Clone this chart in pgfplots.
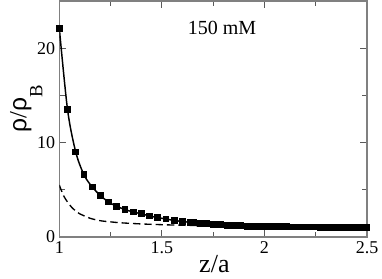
\documentclass[border=0pt]{standalone}
\usepackage{fontspec}
\setmainfont{Liberation Serif}
\newfontfamily\greekfont{Liberation Sans}
\usepackage{pgfplots}
\pgfplotsset{compat=1.18}
\begin{document}
\begin{tikzpicture}
\begin{axis}[
  scale only axis, width=230.8pt, height=177pt,
  xmin=1, xmax=2.5, ymin=0, ymax=25,
  xtick={1,1.5,2,2.5}, xticklabels={1,1.5,2,2.5},
  ytick={0,10,20},
  minor xtick={1.25,1.75,2.25}, minor ytick={5,15},
  tick align=inside, major tick length=5pt, minor tick length=4pt,
  axis line style={gray, line width=0.9pt},
  every tick/.style={gray!70!black, line width=0.8pt},
  /pgf/number format/assume math mode=true,
  tick label style={font=\fontsize{13.5}{14}\selectfont},
  xticklabel style={inner sep=0pt, yshift=-3pt},
  yticklabel style={inner sep=0pt, xshift=-3pt},
  xlabel={z/a},
  xlabel style={at={(axis description cs:0.504,0)}, anchor=north, inner sep=0pt, yshift=-13.5pt, font=\fontsize{19.5}{20}\selectfont},
  ylabel={{\greekfont ρ}/{\greekfont ρ}\raisebox{-12pt}{\fontsize{14}{14}\selectfont B}},
  ylabel style={at={(axis description cs:0,0.545)}, anchor=south, inner sep=0pt, yshift=12.5pt, font=\fontsize{18.5}{19}\selectfont},
]
\coordinate (SW) at (rel axis cs:0,0);
\coordinate (NE) at (rel axis cs:1,1);
\node[font=\fontsize{15}{15}\selectfont] at (axis description cs:0.529,0.884) {150 mM};

\addplot[black, line width=1.1pt, smooth, mark=square*, mark size=2pt, mark options={solid}] coordinates {
(1.00,22.1) (1.04,13.5) (1.08,9.0) (1.12,6.6) (1.16,5.3) (1.20,4.4)
(1.24,3.7) (1.28,3.25) (1.32,2.9) (1.36,2.65) (1.40,2.45) (1.44,2.23)
(1.48,2.05) (1.52,1.9) (1.56,1.75) (1.60,1.64) (1.64,1.54)
(1.655,1.52) (1.6875,1.46) (1.72,1.39) (1.7525,1.33) (1.785,1.29)
(1.8175,1.25) (1.85,1.21) (1.8825,1.18) (1.915,1.15) (1.9475,1.13)
(1.98,1.11) (2.0125,1.10) (2.045,1.09) (2.0775,1.08) (2.11,1.07)
(2.1425,1.06) (2.175,1.06) (2.2075,1.05) (2.24,1.05) (2.2725,1.04)
(2.305,1.04) (2.3375,1.04) (2.37,1.03) (2.4025,1.03) (2.435,1.03)
(2.4675,1.03) (2.5,1.03)
};

\addplot[black, line width=1pt, dash pattern=on 5.5pt off 3pt, smooth, no markers] coordinates {
(1.00,5.5) (1.02,4.4) (1.04,3.7) (1.06,3.15) (1.08,2.75) (1.10,2.45)
(1.15,1.98) (1.20,1.72) (1.25,1.6) (1.30,1.5) (1.40,1.38) (1.50,1.3)
(1.60,1.24) (1.70,1.19) (1.80,1.15) (2.00,1.09) (2.20,1.05) (2.50,1.02)
};
\end{axis}
\pgfresetboundingbox
\path[use as bounding box] ([xshift=-44.5pt,yshift=-31.5pt]SW) rectangle ([xshift=11.25pt,yshift=0.75pt]NE);
\end{tikzpicture}
\end{document}
